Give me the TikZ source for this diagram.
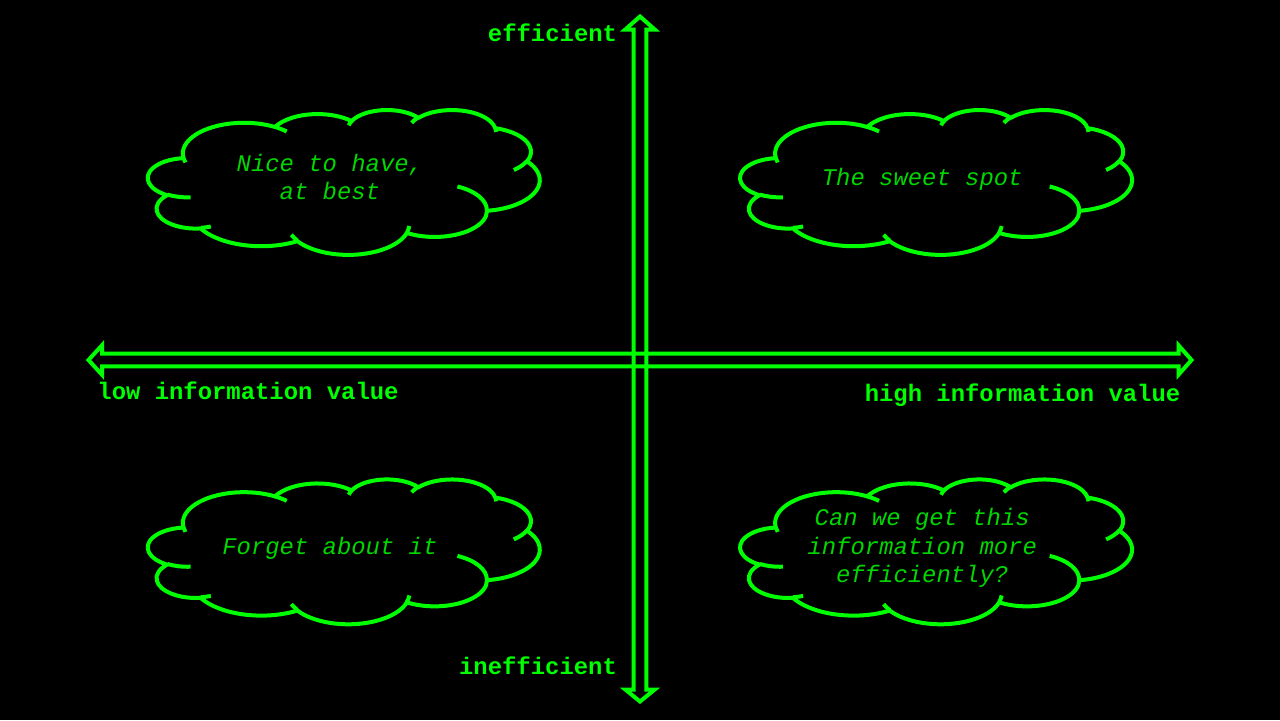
\documentclass[tikz,border=0pt]{standalone}
\usepackage{fontspec}
\setmonofont{Liberation Mono}
\usepackage{tikz}

\definecolor{ppgreen}{RGB}{0,255,0}
\definecolor{ppgreentext}{RGB}{0,215,0}
\newcommand{\axisfont}{\ttfamily\bfseries\fontsize{13.6pt}{16.2pt}\selectfont}
\newcommand{\cloudfont}{\ttfamily\itshape\fontsize{13.6pt}{16.2pt}\selectfont}
% one puff of the cloud outline: x radius, y radius, start and sweep angle
\newcommand{\puff}[4]{arc[x radius=#1, y radius=#2, start angle={pa(#3,#1,#2)}, delta angle={dpa(#3,#4,#1,#2)}]}

\begin{document}
\begin{tikzpicture}[x=0.02cm, y=-0.02cm,
  declare function={pa(\a,\p,\q)=atan2(\p*sin(\a),\q*cos(\a));
                    dpa(\a,\w,\p,\q)=mod(pa(\a+\w,\p,\q)-pa(\a,\p,\q)+720,360);},
  axisarrow/.style={draw=ppgreen, line width=0.08cm, line join=miter},
  cloudline/.style={draw=ppgreen, line width=0.08cm, line join=round},
  axislabel/.style={text=ppgreen, font=\axisfont, inner sep=0pt},
  cloudtext/.style={text=ppgreentext, font=\cloudfont, align=center, inner sep=0pt},
  cloudpic/.pic={
    \begin{scope}[x=0.18134cm, y=-0.06704cm, shift={(-20.064,-20.599)}]
    \draw[cloudline] (3.900,14.370)
      \puff{6.753}{9.190}{-190.4875}{123.7805}
      \puff{5.333}{7.267}{-144.1024}{89.9452}
      \puff{4.365}{5.945}{-145.8079}{99.7230}
      \puff{4.857}{6.595}{-130.9861}{117.2417}
      \puff{5.333}{7.273}{-78.7089}{109.0269}
      \puff{6.775}{9.220}{-46.2673}{130.2690}
      \puff{5.785}{7.867}{0.6250}{114.0333}
      \puff{6.752}{9.215}{22.4516}{115.1726}
      \puff{7.720}{10.543}{66.2426}{75.7110}
      \puff{4.360}{5.918}{-274.9421}{146.7356}
      \puff{4.345}{5.945}{-246.8285}{152.5189} -- cycle;
    \draw[cloudline]
      (4.693,26.177) \puff{4.345}{5.945}{86.7420}{26.4295}
      (6.928,34.899) \puff{4.360}{5.918}{73.6105}{11.4475}
      (16.478,39.090) \puff{6.752}{9.215}{137.6242}{14.0811}
      (28.827,34.751) \puff{6.752}{9.215}{6.4533}{15.9984}
      (34.129,22.954) \puff{5.785}{7.867}{-70.2924}{70.9174}
      (41.798,15.354) \puff{5.333}{7.273}{30.3180}{27.7515}
      (38.324,5.426) \puff{4.857}{6.595}{-13.7443}{14.8589}
      (29.078,3.952) \puff{4.857}{6.595}{-149.1815}{18.1954}
      (22.141,4.720) \puff{4.365}{5.945}{-163.4943}{17.6864}
      (14.000,5.192) \puff{6.753}{9.190}{-66.7070}{12.3194}
      (4.127,15.789) \puff{6.753}{9.190}{157.6544}{11.8582};
    \end{scope}
  }]
\fill[black] (0,0) rectangle (1280,720);
\useasboundingbox (0,0) rectangle (1280,720);

% value axis and efficiency axis
\draw[axisarrow] (88.5,360) -- (102,345.3) -- (102,353.6) -- (1178.5,353.6) -- (1178.5,345.3)
  -- (1191.5,360) -- (1178.5,374.7) -- (1178.5,366.4) -- (102,366.4) -- (102,374.7) -- cycle;
\draw[axisarrow] (640,16.5) -- (654.7,29.5) -- (646.3,29.5) -- (646.3,689.5) -- (654.7,689.5)
  -- (640,701.5) -- (625.3,689.5) -- (633.7,689.5) -- (633.7,29.5) -- (625.3,29.5) -- cycle;

\node[axislabel, anchor=base] (eff) at (552.5,41.7) {efficient};
\node[axislabel, anchor=base] (ineff) at (538,674) {inefficient};
\node[axislabel, anchor=base] (low) at (248,399) {low information value};
\node[axislabel, anchor=base] (high) at (1022.5,401.5) {high information value};

\pic at (329.9,178.6) {cloudpic};
\pic at (922.2,178.6) {cloudpic};
\pic at (329.9,548) {cloudpic};
\pic at (922.2,548) {cloudpic};

\node[cloudtext] (nice) at (329.9,177) {Nice to have,\\at best};
\node[cloudtext] (sweet) at (922.2,179.6) {The sweet spot};
\node[cloudtext] (forget) at (329.9,548) {Forget about it};
\node[cloudtext] (better) at (922.2,548) {Can we get this\\information more\\efficiently?};
\end{tikzpicture}
\end{document}
